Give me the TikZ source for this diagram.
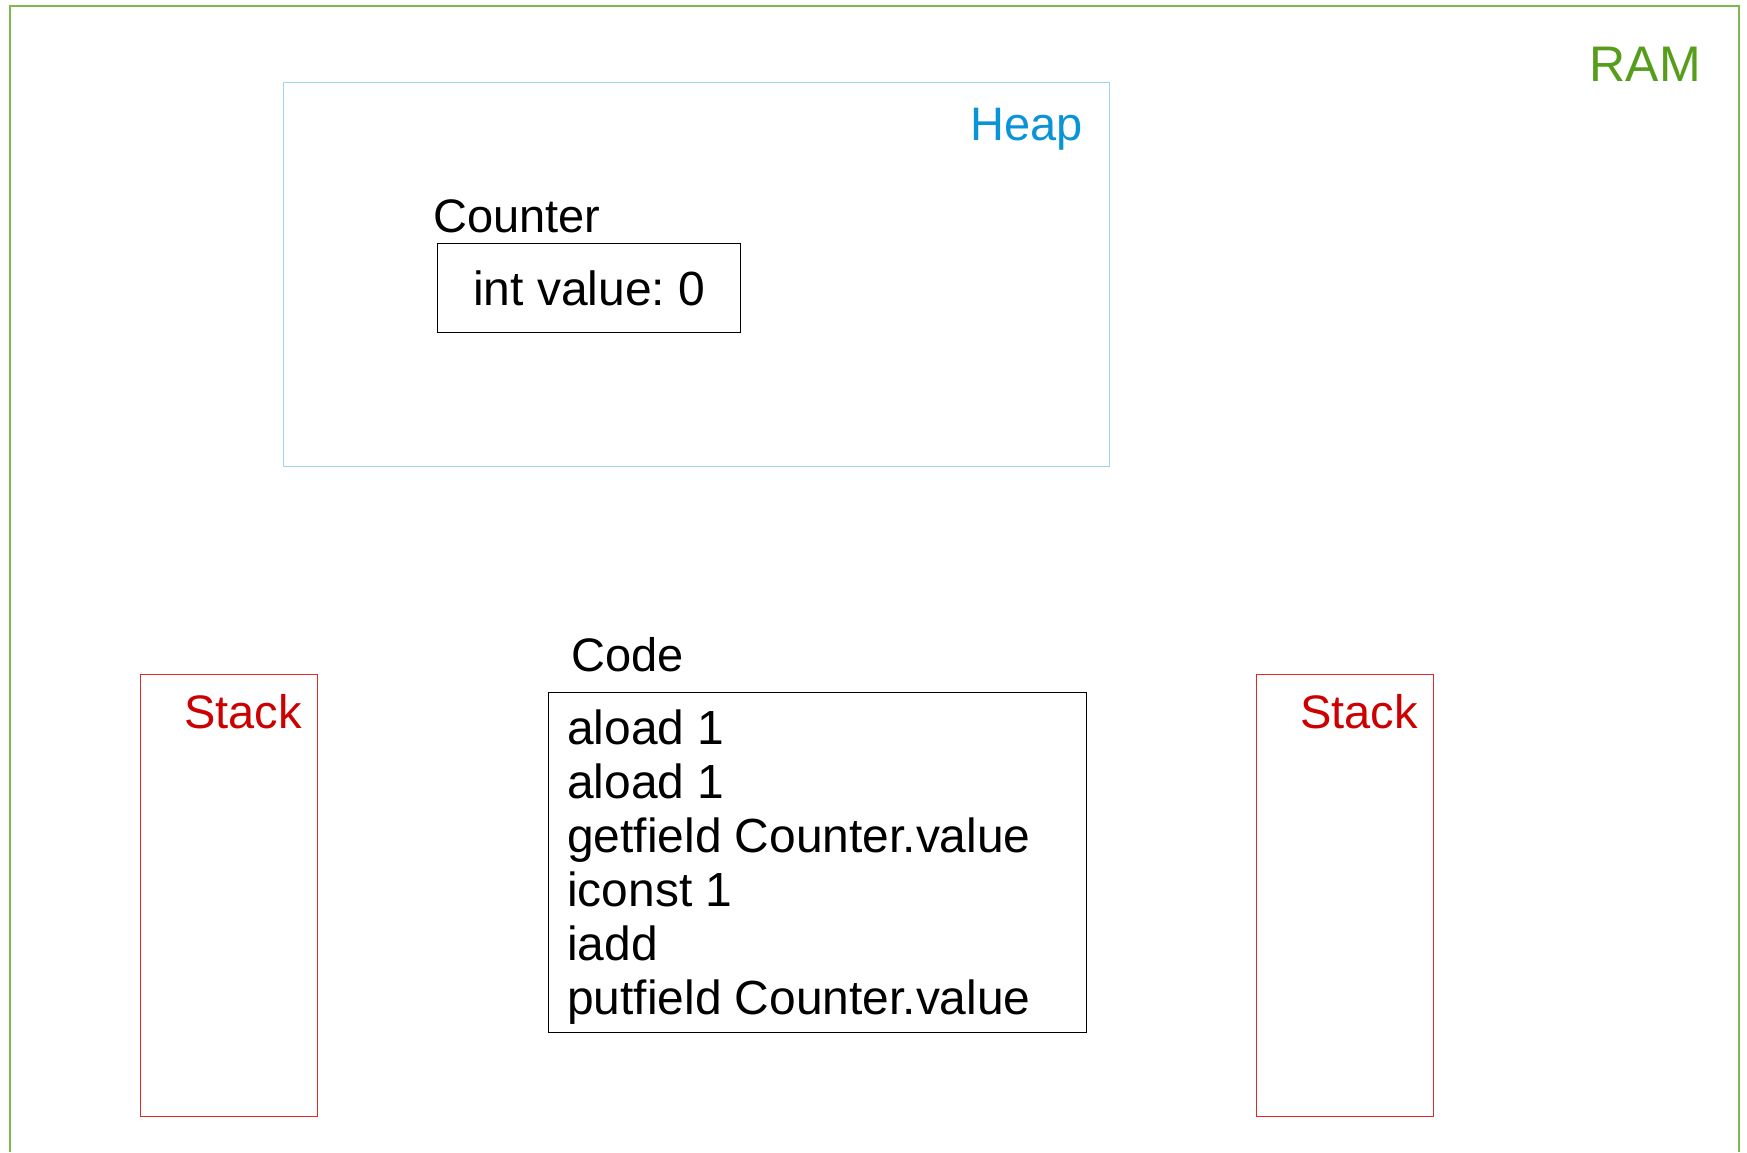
\documentclass[tikz,border=0pt]{standalone}
\usepackage{fontspec}
\setmainfont{Liberation Sans}
\frenchspacing
\definecolor{ramline}{HTML}{7DBA4C}
\definecolor{ramtext}{HTML}{579D1C}
\definecolor{heapline}{HTML}{9FD3FA}
\definecolor{heaptext}{HTML}{0A94D8}
\definecolor{stackline}{HTML}{E02828}
\definecolor{stacktext}{HTML}{CC0000}
\tikzset{
  box/.style={draw, line width=1.1pt, inner sep=0pt, anchor=north west},
  lbl/.style={inner sep=0pt, font=\fontsize{47}{56}\selectfont},
  codeline/.style={inner sep=0pt, anchor=base west, font=\fontsize{47.9}{56}\selectfont},
}
\begin{document}
\begin{tikzpicture}[x=1pt,y=-1pt]
\useasboundingbox (0,0) rectangle (1747,1152);
% RAM
\draw[ramline, line width=1.2pt] (10,1152) -- (10,6) -- (1739,6) -- (1739,1152);
\node[lbl, text=ramtext, anchor=base east, font=\fontsize{50}{60}\selectfont] (ram) at (1701,81) {RAM};
% Heap
\node[box, draw=heapline, minimum width=826pt, minimum height=384pt] (heap) at (283,82) {};
\node[lbl, text=heaptext, anchor=base east] (heaplbl) at (1083,140) {Heap};
\node[lbl, anchor=base west] (counterlbl) at (433,232) {Counter};
\node[box, draw=black, minimum width=303pt, minimum height=89pt] (counter) at (437,243) {};
\node[lbl, anchor=base west, font=\fontsize{48}{56}\selectfont] (val) at (473,305) {int value: 0};
% Stacks
\node[box, draw=stackline, minimum width=177pt, minimum height=442pt] (stackL) at (140,674) {};
\node[lbl, text=stacktext, anchor=base east] (stackLlbl) at (302,728) {Stack};
\node[box, draw=stackline, minimum width=177pt, minimum height=442pt] (stackR) at (1256,674) {};
\node[lbl, text=stacktext, anchor=base east] (stackRlbl) at (1418,728) {Stack};
% Code
\node[lbl, anchor=base west] (codelbl) at (571,671) {Code};
\node[box, draw=black, minimum width=538pt, minimum height=340pt] (code) at (548,692) {};
\node[codeline] (c1) at (567,744) {aload 1};
\node[codeline] (c2) at (567,798) {aload 1};
\node[codeline] (c3) at (567,852) {getfield Counter.value};
\node[codeline] (c4) at (567,906) {iconst 1};
\node[codeline] (c5) at (567,960) {iadd};
\node[codeline] (c6) at (567,1014) {putfield Counter.value};
\end{tikzpicture}
\end{document}
